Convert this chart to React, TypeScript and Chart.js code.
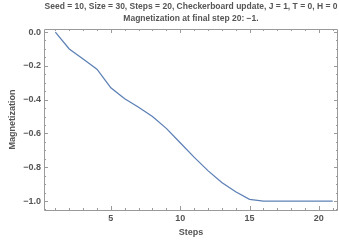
import React, { useEffect, useRef } from "react";
import { Chart, registerables } from "chart.js";

Chart.register(...registerables);

const steps = [1, 2, 3, 4, 5, 6, 7, 8, 9, 10, 11, 12, 13, 14, 15, 16, 17, 18, 19, 20, 21];
const magnetization = [0.0, -0.1, -0.16, -0.22, -0.33, -0.395, -0.445, -0.5, -0.57, -0.655, -0.74, -0.82, -0.89, -0.945, -0.99, -1.0, -1.0, -1.0, -1.0, -1.0, -1.0];
const xMajorTicks = [5, 10, 15, 20];
const yMajorTicks = [0, -0.2, -0.4, -0.6, -0.8, -1.0];
const titleLines = [
  "Seed = 10, Size = 30, Steps = 20, Checkerboard update, J = 1, T = 0, H = 0",
  "Magnetization at final step 20: \u22121.",
];
const xLabel = "Steps";
const yLabel = "Magnetization";

const FONT = "'Liberation Sans', Arial, Helvetica, sans-serif";
const TEXT = "#555555";
const FRAME = "#9a9a9a";

const framePlugin = {
  id: "frameTicks",
  afterDatasetsDraw(chart: any) {
    const { ctx, chartArea: a, scales } = chart;
    const xs = scales.x;
    const ys = scales.y;
    ctx.save();
    ctx.strokeStyle = FRAME;
    ctx.lineWidth = 1;
    ctx.beginPath();
    ctx.rect(Math.round(a.left) + 0.5, Math.round(a.top) + 0.5, Math.round(a.right - a.left) - 1, Math.round(a.bottom - a.top));
    ctx.stroke();
    const line = (x1: number, y1: number, x2: number, y2: number) => {
      ctx.beginPath();
      ctx.moveTo(x1, y1);
      ctx.lineTo(x2, y2);
      ctx.stroke();
    };
    for (let v = 1; v <= 21; v++) {
      const major = v % 5 === 0;
      const len = major ? 4 : 2;
      const px = Math.round(xs.getPixelForValue(v)) + 0.5;
      if (px < a.left || px > a.right) continue;
      line(px, a.bottom, px, a.bottom - len);
      line(px, a.top, px, a.top + len);
    }
    for (let i = 0; i <= 21; i++) {
      const v = -i * 0.05;
      const major = i % 4 === 0;
      const len = major ? 4 : 2;
      const py = Math.round(ys.getPixelForValue(v)) + 0.5;
      line(a.left, py, a.left + len, py);
      line(a.right, py, a.right - len, py);
    }
    ctx.restore();
  },
};

export default function App() {
  const ref = useRef<HTMLCanvasElement | null>(null);
  useEffect(() => {
    document.body.style.margin = "0";
    const chart = new Chart(ref.current as HTMLCanvasElement, {
      type: "line",
      data: {
        labels: steps,
        datasets: [
          {
            data: steps.map((s, i) => ({ x: s, y: magnetization[i] })),
            borderColor: "#5E81B5",
            borderWidth: 1.3,
            pointRadius: 0,
            fill: false,
            tension: 0,
          },
        ],
      },
      options: {
        animation: false,
        responsive: false,
        layout: { padding: { left: 0, right: 1, top: 0, bottom: 0 } },
        plugins: {
          legend: { display: false },
          tooltip: { enabled: false },
          title: {
            display: true,
            text: titleLines,
            fullSize: false,
            color: TEXT,
            font: { family: FONT, size: 8.5, weight: "bold", lineHeight: "12px" },
            padding: { top: 1, bottom: 4 },
          },
        },
        scales: {
          x: {
            type: "linear",
            min: 0.18,
            max: 21.38,
            grid: { display: false, drawTicks: false },
            border: { display: false },
            afterBuildTicks: (s: any) => {
              s.ticks = xMajorTicks.map((v) => ({ value: v }));
            },
            afterFit: (s: any) => {
              s.height = 34;
            },
            ticks: {
              color: TEXT,
              padding: 3,
              maxRotation: 0,
              autoSkip: false,
              font: { family: FONT, size: 9, weight: "bold" },
              callback: (v: any) => String(v),
            },
            title: {
              display: true,
              text: xLabel,
              color: TEXT,
              font: { family: FONT, size: 9, weight: "bold" },
              padding: { top: 0, bottom: 6 },
            },
          },
          y: {
            type: "linear",
            min: -1.053,
            max: 0.018,
            grid: { display: false, drawTicks: false },
            border: { display: false },
            afterBuildTicks: (s: any) => {
              s.ticks = yMajorTicks.map((v) => ({ value: v }));
            },
            afterFit: (s: any) => {
              s.width = 44;
            },
            ticks: {
              color: TEXT,
              padding: 3,
              autoSkip: false,
              font: { family: FONT, size: 9, weight: "bold" },
              callback: (v: any) => {
                const n = Number(v);
                const t = Math.abs(n).toFixed(1);
                return n < -1e-9 ? "\u2212" + t : t;
              },
            },
            title: {
              display: true,
              text: yLabel,
              color: TEXT,
              font: { family: FONT, size: 9, weight: "bold" },
              padding: { top: 7, bottom: 0 },
            },
          },
        },
      },
      plugins: [framePlugin],
    } as any);
    return () => chart.destroy();
  }, []);
  return (
    <div style={{ width: 339, height: 244, background: "#fff" }}>
      <canvas ref={ref} width={339} height={244} style={{ display: "block" }} />
    </div>
  );
}
